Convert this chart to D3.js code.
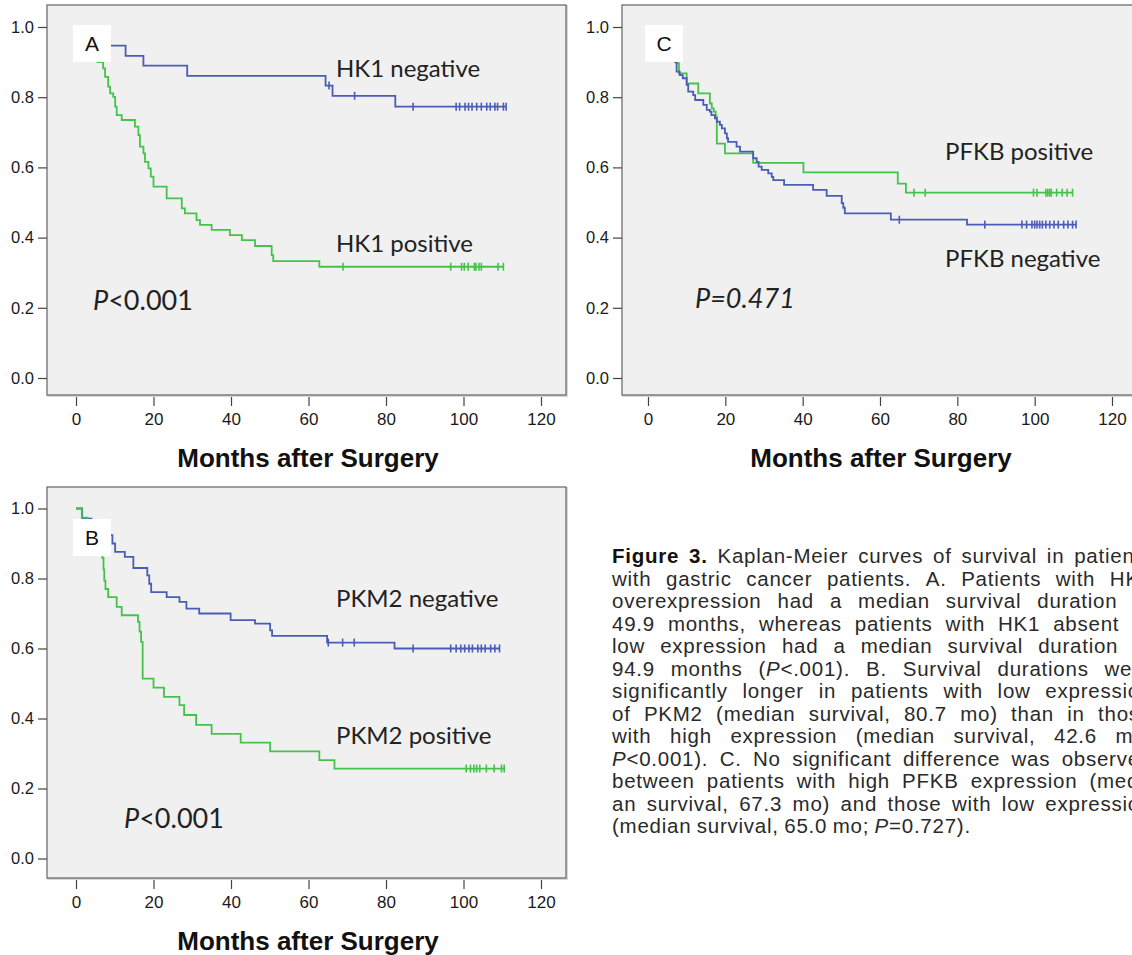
<!DOCTYPE html>
<html><head><meta charset="utf-8">
<script src="https://cdn.jsdelivr.net/npm/d3@7"></script>
<style>body{margin:0;background:#fff;overflow:hidden}svg{display:block}</style>
</head><body>
<svg id="chart" width="1132" height="955"></svg>
<script>
// ---------- data ----------
const xTicks = [0, 20, 40, 60, 80, 100, 120];
const yTicks = [0, 0.2, 0.4, 0.6, 0.8, 1.0];
const xTitle = "Months after Surgery";

// Panel A: HK1
const hk1NegSteps = [[0,1],[5,0.973],[8,0.947],[12.8,0.918],[17.4,0.89],[28.7,0.861],[64.4,0.833],[66.2,0.804],[82.4,0.773]];
const hk1NegCensor = [65.3,71.9,87,98.1,99,100.4,101.3,102.2,103.4,104.6,106,106.9,108.1,108.8,110.3,111];
const hk1PosSteps = [[0,1],[2,0.985],[3.5,0.957],[4.5,0.929],[5.5,0.9],[7,0.882],[7.5,0.858],[8.3,0.83],[8.8,0.811],[9.6,0.801],[10.1,0.773],[10.5,0.749],[11.8,0.735],[15.2,0.716],[16.1,0.692],[16.5,0.659],[17.4,0.64],[17.8,0.616],[18.7,0.597],[19.3,0.574],[20,0.545],[23.4,0.512],[27.3,0.483],[28.1,0.469],[31.1,0.45],[32,0.436],[35,0.422],[39.7,0.407],[42.8,0.393],[46.2,0.376],[50.5,0.35],[50.9,0.333],[62.8,0.317]];
const hk1PosCensor = [68.9,96.7,99.5,100.2,101.2,102.8,103.2,104,104.6,108.9,110.3];

// Panel C: PFKB
const pfkbNegSteps = [[0,1],[3,0.975],[5,0.95],[6,0.925],[7,0.9],[7.4,0.873],[8.2,0.863],[9,0.854],[10,0.835],[10.4,0.816],[11.7,0.806],[12.2,0.792],[14.3,0.778],[15.2,0.764],[16,0.759],[16.4,0.749],[17.3,0.74],[17.8,0.73],[18.6,0.721],[19.1,0.711],[19.9,0.697],[20.4,0.683],[20.7,0.673],[22.9,0.659],[23.8,0.645],[27.2,0.626],[28.1,0.616],[28.6,0.602],[29.4,0.593],[31.1,0.583],[32,0.573],[32.4,0.564],[35.2,0.55],[42.7,0.536],[46.2,0.519],[50.1,0.498],[50.5,0.485],[50.9,0.469],[62.8,0.451],[82.5,0.437]];
const pfkbNegCensor = [65,87.1,96.7,97.9,99.3,100,100.6,101.3,102,102.9,103.9,105,106.1,107.5,108.6,109.8,110.7];
const pfkbPosSteps = [[0,1],[3,0.97],[5,0.94],[6.5,0.91],[7.4,0.897],[8,0.868],[10,0.839],[13,0.811],[16,0.782],[16.5,0.768],[17,0.759],[17.5,0.745],[17.8,0.668],[19.9,0.64],[27.2,0.613],[40.2,0.586],[64.6,0.554],[66.7,0.528]];
const pfkbPosCensor = [68.8,71.7,99.7,100.6,102.9,103.4,103.9,104.3,105.7,107.1,108.4,109.8];

// Panel B: PKM2
const pkm2NegSteps = [[0,1],[1.6,0.971],[4,0.957],[6,0.943],[8,0.924],[9.4,0.9],[10.1,0.876],[12.6,0.862],[14.8,0.83],[18.4,0.809],[18.9,0.785],[19.4,0.761],[23.4,0.747],[26.7,0.733],[28.5,0.714],[31.8,0.7],[39.9,0.681],[46.2,0.671],[50.1,0.652],[50.6,0.636],[64.8,0.617],[82.2,0.6]];
const pkm2NegCensor = [65.1,68.8,71.8,87,96.7,98.1,99.3,100.3,101.4,102.3,103.7,104.6,105.6,107,108.1,109.3];
const pkm2PosSteps = [[0,1],[1.5,0.974],[3,0.95],[5,0.92],[6,0.89],[6.8,0.858],[7.1,0.826],[7.3,0.794],[7.6,0.77],[8.3,0.747],[10.5,0.719],[11.8,0.695],[16,0.676],[16.4,0.648],[16.8,0.619],[17.2,0.514],[20,0.488],[22.7,0.462],[26.7,0.438],[27.9,0.41],[31,0.382],[35,0.356],[42.5,0.331],[50.1,0.306],[62.8,0.281],[66.7,0.257]];
const pkm2PosCensor = [100.7,101.8,102.7,103.4,104.2,105.9,107.9,109.8,110.5];

const panelLetters = ["A", "C", "B"];
const seriesLabels = [["HK1 negative","HK1 positive"],["PFKB negative","PFKB positive"],["PKM2 negative","PKM2 positive"]];
const pLabels = [["P","<0.001"],["P","=0.471"],["P","<0.001"]];

const captionLines = [
 "**Figure** **3.** Kaplan-Meier curves of survival in patients",
 "with gastric cancer patients. A. Patients with HK1",
 "overexpression had a median survival duration of",
 "49.9 months, whereas patients with HK1 absent or",
 "low expression had a median survival duration of",
 "94.9 months (*P*<.001). B. Survival durations were",
 "significantly longer in patients with low expression",
 "of PKM2 (median survival, 80.7 mo) than in those",
 "with high expression (median survival, 42.6 mo;",
 "*P*<0.001). C. No significant difference was observed",
 "between patients with high PFKB expression (medi-",
 "an survival, 67.3 mo) and those with low expression",
 "(median survival, 65.0 mo; *P*=0.727)."
];

// ---------- layout ----------
const BLUE = "#4a5cb6", GREEN = "#45c24a";
const svg = d3.select("#chart");

const panels = [
  {neg: hk1NegSteps, negC: hk1NegCensor, pos: hk1PosSteps, posC: hk1PosCensor,
   px: [76, 541], py: [378, 27], frame: [47, 5, 566, 395], titleX: 308,
   labNeg: [336, 77], labPos: [336, 252], pLab: [93, 310], italicAll: false},
  {neg: pfkbNegSteps, negC: pfkbNegCensor, pos: pfkbPosSteps, posC: pfkbPosCensor,
   px: [648, 1112], py: [378, 27], frame: [622, 5, 1150, 395], titleX: 881,
   labNeg: [945, 267], labPos: [945, 160], pLab: [695, 308], italicAll: true},
  {neg: pkm2NegSteps, negC: pkm2NegCensor, pos: pkm2PosSteps, posC: pkm2PosCensor,
   px: [76, 541], py: [858.5, 508.5], frame: [47, 487, 566, 878], titleX: 308,
   labNeg: [336, 607], labPos: [336, 744], pLab: [124, 828], italicAll: false}
];

panels.forEach((p, i) => {
  const g = svg.append("g");
  const x = d3.scaleLinear().domain([0, 120]).range(p.px);
  const y = d3.scaleLinear().domain([0, 1]).range(p.py);
  const [fx0, fy0, fx1, fy1] = p.frame;

  g.append("rect").attr("x", fx0 + 1).attr("y", fy0 + 1).attr("width", fx1 - fx0).attr("height", fy1 - fy0)
    .attr("fill", "none").attr("stroke", "#d8d8d8").attr("stroke-width", 2);
  g.append("rect").attr("x", fx0).attr("y", fy0).attr("width", fx1 - fx0).attr("height", fy1 - fy0)
    .attr("fill", "#f0f0f0").attr("stroke", "#6e6e6e").attr("stroke-width", 1.3);

  // y axis
  const ya = g.append("g").attr("transform", `translate(${fx0},0)`)
    .call(d3.axisLeft(y).tickValues(yTicks).tickFormat(d3.format(".1f")).tickSize(9).tickPadding(4));
  ya.select(".domain").remove();
  ya.selectAll("line").attr("stroke", "#444").attr("stroke-width", 1.2);
  ya.selectAll("text").attr("font-family", "Liberation Sans, Arial, sans-serif").attr("font-size", 16.5).attr("fill", "#1a1a1a");

  // x axis
  const xa = g.append("g").attr("transform", `translate(0,${fy1 + 2})`)
    .call(d3.axisBottom(x).tickValues(xTicks).tickSize(9).tickPadding(7));
  xa.select(".domain").remove();
  xa.selectAll("line").attr("stroke", "#444").attr("stroke-width", 1.2);
  xa.selectAll("text").attr("font-family", "Liberation Sans, Arial, sans-serif").attr("font-size", 17).attr("fill", "#1a1a1a");

  g.append("text").attr("x", p.titleX).attr("y", fy1 + 72).attr("text-anchor", "middle")
    .attr("font-family", "Liberation Sans, Arial, sans-serif").attr("font-weight", "bold").attr("font-size", 26)
    .attr("fill", "#111").text(xTitle);

  // curves
  const line = d3.line().x(d => x(d[0])).y(d => y(d[1])).curve(d3.curveStepAfter);
  const levelAt = (steps, t) => { let v = steps[0][1]; for (const s of steps) if (s[0] <= t) v = s[1]; return v; };
  const drawCurve = (steps, cens, color) => {
    const end = d3.max(cens);
    const pts = steps.concat([[end, steps[steps.length - 1][1]]]);
    g.append("path").attr("d", line(pts)).attr("fill", "none").attr("stroke", color).attr("stroke-width", 1.8);
    g.selectAll(null).data(cens).join("line")
      .attr("x1", d => x(d)).attr("x2", d => x(d))
      .attr("y1", d => y(levelAt(steps, d)) - 4).attr("y2", d => y(levelAt(steps, d)) + 4)
      .attr("stroke", color).attr("stroke-width", 1.6);
  };
  if (i === 1) { drawCurve(p.pos, p.posC, GREEN); drawCurve(p.neg, p.negC, BLUE); }
  else { drawCurve(p.neg, p.negC, BLUE); drawCurve(p.pos, p.posC, GREEN); }

  // panel letter box
  const bx = x(0) - 3, by = i === 2 ? 519 : 25;
  g.append("rect").attr("x", bx).attr("y", by).attr("width", 38).attr("height", 37).attr("fill", "#fff");
  g.append("text").attr("x", bx + 19).attr("y", by + 26).attr("text-anchor", "middle")
    .attr("font-family", "Liberation Sans, Arial, sans-serif").attr("font-size", 21).attr("fill", "#111").text(panelLetters[i]);

  // labels
  const lf = "Lato, 'Open Sans', sans-serif";
  g.append("text").attr("x", p.labNeg[0]).attr("y", p.labNeg[1]).attr("font-family", lf).attr("font-size", 24)
    .attr("fill", "#222").text(seriesLabels[i][0]);
  g.append("text").attr("x", p.labPos[0]).attr("y", p.labPos[1]).attr("font-family", lf).attr("font-size", 24)
    .attr("fill", "#222").text(seriesLabels[i][1]);
  const pt = g.append("text").attr("x", p.pLab[0]).attr("y", p.pLab[1]).attr("font-family", lf).attr("font-size", 27).attr("fill", "#222");
  pt.append("tspan").attr("font-style", "italic").text(pLabels[i][0]);
  pt.append("tspan").attr("font-style", p.italicAll ? "italic" : "normal").text(pLabels[i][1]);
});

// ---------- caption ----------
const capX = 612, capY0 = 563, capLH = 22.5, capW = 540;
const cap = svg.append("g").attr("font-family", "Liberation Sans, Arial, sans-serif").attr("font-size", 20.5)
  .attr("letter-spacing", 0.75).attr("fill", "#2a2a2a");
captionLines.forEach((ln, li) => {
  const words = ln.split(" ");
  const nodes = words.map(w => {
    const t = cap.append("text").attr("y", capY0 + li * capLH);
    w.split(/(\*\*[^*]+\*\*|\*[^*]+\*)/).filter(s => s.length).forEach(seg => {
      const ts = t.append("tspan");
      if (seg.startsWith("**")) ts.attr("font-weight", "bold").attr("fill", "#111").text(seg.slice(2, -2));
      else if (seg.startsWith("*")) ts.attr("font-style", "italic").text(seg.slice(1, -1));
      else ts.text(seg);
    });
    return t;
  });
  const widths = nodes.map(n => n.node().getComputedTextLength());
  const total = d3.sum(widths);
  const last = li === captionLines.length - 1;
  const space = 5.5;
  const gap = last ? space : Math.max(space, (capW - total) / (words.length - 1));
  let cx = capX;
  nodes.forEach((n, k) => { n.attr("x", cx); cx += widths[k] + gap; });
});
</script>
</body></html>
